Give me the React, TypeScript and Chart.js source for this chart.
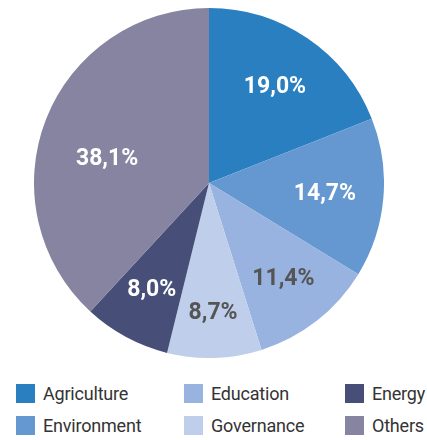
import React, { useEffect, useRef } from "react";
import { Chart, registerables } from "chart.js";

Chart.register(...registerables);

const categories = ["Agriculture", "Environment", "Education", "Governance", "Energy", "Others"];
const values = [19.0, 14.7, 11.4, 8.7, 8.0, 38.1];
const valueLabels = ["19,0%", "14,7%", "11,4%", "8,7%", "8,0%", "38,1%"];
const colors = ["#2a7fc1", "#6598d0", "#98b3df", "#bfcfeb", "#474f78", "#8684a0"];
const labelColors = ["#ffffff", "#ffffff", "#555555", "#555555", "#ffffff", "#ffffff"];
const legendColumns = [["Agriculture", "Environment"], ["Education", "Governance"], ["Energy", "Others"]];

// label placement (fraction of radius) and angular nudge (radians) per slice — styling only
const labelRadius = [0.67, 0.665, 0.69, 0.74, 0.69, 0.6];
const labelNudge = [0, 0, 0, 0, 0, -0.13];

const labelPlugin = {
  id: "sliceLabels",
  afterDatasetsDraw(chart: any) {
    const ctx = chart.ctx;
    const meta = chart.getDatasetMeta(0);
    ctx.save();
    ctx.font = "bold 23px Roboto";
    ctx.textAlign = "center";
    ctx.textBaseline = "middle";
    meta.data.forEach((arc: any, i: number) => {
      const p = arc.getProps(["x", "y", "startAngle", "endAngle", "outerRadius"], true);
      const mid = (p.startAngle + p.endAngle) / 2 + labelNudge[i];
      const r = p.outerRadius * labelRadius[i];
      ctx.fillStyle = labelColors[i];
      ctx.fillText(valueLabels[i], p.x + Math.cos(mid) * r, p.y + Math.sin(mid) * r + 1);
    });
    ctx.restore();
  },
};

export default function App() {
  const ref = useRef<HTMLCanvasElement>(null);
  useEffect(() => {
    const chart = new Chart(ref.current!, {
      type: "pie",
      data: {
        labels: categories,
        datasets: [{ data: values, backgroundColor: colors, borderWidth: 0 }],
      },
      options: {
        animation: false,
        responsive: true,
        maintainAspectRatio: false,
        layout: { padding: 0 },
        plugins: { legend: { display: false }, tooltip: { enabled: false } },
      },
      plugins: [labelPlugin],
    });
    return () => chart.destroy();
  }, []);

  const colX = [16, 184, 345];
  const rowY = [384, 416];
  return (
    <div style={{ position: "absolute", left: 0, top: 0, width: 427, height: 440, background: "#fff", fontFamily: "Roboto" }}>
      <div style={{ position: "absolute", left: 34, top: 8, width: 350, height: 350 }}>
        <canvas ref={ref} />
      </div>
      {legendColumns.map((col, ci) =>
        col.map((name, ri) => (
          <div
            key={name}
            style={{ position: "absolute", left: colX[ci], top: rowY[ri], height: 19, display: "flex", alignItems: "center", whiteSpace: "nowrap" }}
          >
            <div style={{ width: 19, height: 19, background: colors[categories.indexOf(name)] }} />
            <span style={{ marginLeft: 8, fontSize: 18, color: "#333", lineHeight: "19px", letterSpacing: -0.2 }}>{name}</span>
          </div>
        ))
      )}
    </div>
  );
}
